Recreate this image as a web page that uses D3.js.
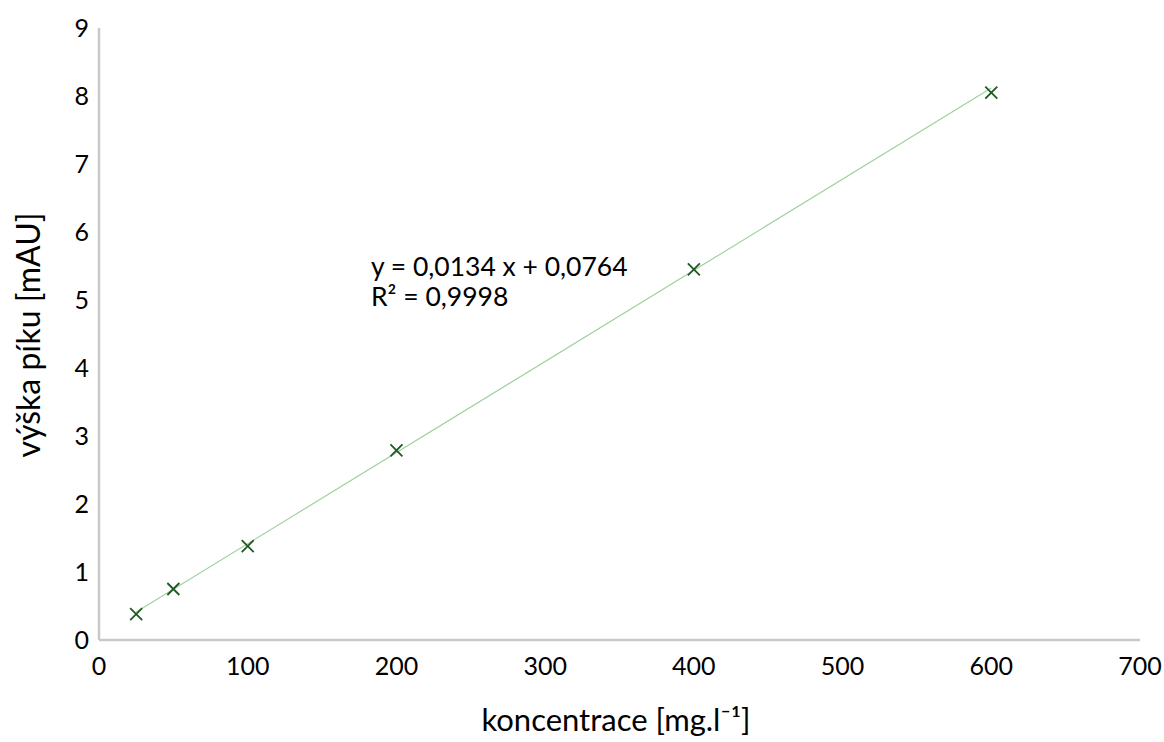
<!DOCTYPE html>
<html><head><meta charset="utf-8">
<script src="https://cdn.jsdelivr.net/npm/d3@7"></script>
<style>body{margin:0;background:#fff}svg{display:block}text{font-family:Lato,"Open Sans",sans-serif;fill:#000}</style>
</head><body><svg id="c" width="1164" height="742"></svg>
<script>
const concentrations = [25, 50, 100, 200, 400, 600];
const peakHeights = [0.38, 0.75, 1.38, 2.79, 5.45, 8.05];
const xTicks = [0, 100, 200, 300, 400, 500, 600, 700];
const yTicks = [0, 1, 2, 3, 4, 5, 6, 7, 8, 9];
const slope = 0.0134, intercept = 0.0764;
const eqLines = ["y = 0,0134 x + 0,0764", "R² = 0,9998"];

const svg = d3.select("#c");
const x = d3.scaleLinear().domain([0, 700]).range([99, 1140]);
const y = d3.scaleLinear().domain([0, 9]).range([640, 28]);

// axes lines
svg.append("line").attr("x1", x(0)).attr("x2", x(0)).attr("y1", y(9)).attr("y2", y(0))
  .attr("stroke", "#c8c8c8").attr("stroke-width", 2.5);
svg.append("line").attr("x1", x(0)).attr("x2", x(700)).attr("y1", y(0)).attr("y2", y(0))
  .attr("stroke", "#c8c8c8").attr("stroke-width", 2.5);

svg.selectAll("text.yt").data(yTicks).join("text").attr("class", "yt")
  .attr("x", 89).attr("y", d => y(d)).attr("dy", "0.35em").attr("text-anchor", "end")
  .attr("font-size", 25).text(d => d);
svg.selectAll("text.xt").data(xTicks).join("text").attr("class", "xt")
  .attr("x", d => x(d)).attr("y", 675).attr("text-anchor", "middle")
  .attr("font-size", 25).text(d => d);

// trendline
const x0 = d3.min(concentrations), x1 = d3.max(concentrations);
svg.append("line").attr("x1", x(x0)).attr("y1", y(slope * x0 + intercept))
  .attr("x2", x(x1)).attr("y2", y(slope * x1 + intercept))
  .attr("stroke", "#9fd29f").attr("stroke-width", 1.2);

// markers
const s = 6;
const g = svg.selectAll("g.pt").data(concentrations.map((c, i) => [c, peakHeights[i]])).join("g")
  .attr("transform", d => `translate(${x(d[0])},${y(d[1])})`);
g.append("path").attr("d", `M${-s},${-s}L${s},${s}M${-s},${s}L${s},${-s}`)
  .attr("stroke", "#1f5a22").attr("stroke-width", 1.8).attr("fill", "none");

// equation
svg.selectAll("text.eq").data(eqLines).join("text").attr("class", "eq")
  .attr("x", 371).attr("y", (d, i) => 276 + i * 30).attr("font-size", 26.5).text(d => d);

// axis titles
svg.append("text").attr("x", 616).attr("y", 731).attr("text-anchor", "middle")
  .attr("font-size", 31).text("koncentrace [mg.l⁻¹]");
svg.append("text").attr("transform", "translate(40,335) rotate(-90)").attr("text-anchor", "middle")
  .attr("font-size", 32).text("výška píku [mAU]");
</script></body></html>
